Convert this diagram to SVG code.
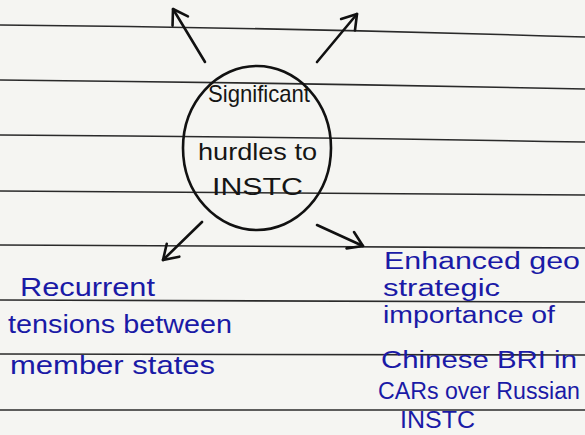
<svg xmlns="http://www.w3.org/2000/svg" width="585" height="435" viewBox="0 0 585 435">
  <defs>
    <style>
      .rule{stroke:#2a2a2a;stroke-width:1.6;fill:none}
      .conn{stroke:#111;stroke-width:2.6;fill:none;stroke-linecap:round;marker-end:url(#head)}
      .ink{font-family:"Liberation Sans",Arial,sans-serif;fill:#151515;font-size:24px}
      .blue{font-family:"Liberation Sans",Arial,sans-serif;fill:#1a1aa6;font-size:26px}
      .blue2{font-family:"Liberation Sans",Arial,sans-serif;fill:#1a1aa6;font-size:23px}
    </style>
    <marker id="head" viewBox="-16 -11 18 22" markerWidth="18" markerHeight="22" refX="0" refY="0" orient="auto" markerUnits="userSpaceOnUse">
      <path d="M-14,-9 L0,0 L-14,9" fill="none" stroke="#111" stroke-width="2.6" stroke-linecap="round" stroke-linejoin="round"/>
    </marker>
  </defs>
  <rect width="585" height="435" fill="#f5f5f2"/>
  <g id="paper">
    <path class="rule" d="M0,25 Q300,28 585,37"/>
    <path class="rule" d="M0,80 Q300,83 585,89"/>
    <path class="rule" d="M0,135 Q300,137 585,142"/>
    <path class="rule" d="M0,191 Q300,192 585,195"/>
    <path class="rule" d="M0,245 Q300,246 585,248"/>
    <path class="rule" d="M0,300 Q300,300 585,302"/>
    <path class="rule" d="M0,354 Q300,354 585,355"/>
    <path class="rule" d="M0,410 L585,410"/>
  </g>
  <g id="connectors">
    <path class="conn" d="M205,62 L173,9"/>
    <path class="conn" d="M317,62 L357,14"/>
    <path class="conn" d="M202,222 L163,260"/>
    <path class="conn" d="M317,225 L363,246"/>
  </g>
  <g id="center">
    <ellipse cx="257" cy="148" rx="74" ry="82" fill="none" stroke="#111" stroke-width="2.6"/>
    <text class="ink" x="208" y="102" textLength="102" lengthAdjust="spacingAndGlyphs">Significant</text>
    <text class="ink" x="198" y="160" textLength="119" lengthAdjust="spacingAndGlyphs">hurdles to</text>
    <text class="ink" x="212" y="195" textLength="91" lengthAdjust="spacingAndGlyphs">INSTC</text>
  </g>
  <g id="left">
    <text class="blue" x="20" y="296" textLength="135" lengthAdjust="spacingAndGlyphs">Recurrent</text>
    <text class="blue" x="8" y="333" textLength="224" lengthAdjust="spacingAndGlyphs">tensions between</text>
    <text class="blue" x="10" y="374" textLength="205" lengthAdjust="spacingAndGlyphs">member states</text>
  </g>
  <g id="right">
    <text class="blue2" x="384" y="269" textLength="196" lengthAdjust="spacingAndGlyphs">Enhanced geo</text>
    <text class="blue2" x="383" y="296" textLength="117" lengthAdjust="spacingAndGlyphs">strategic</text>
    <text class="blue2" x="383" y="323" textLength="172" lengthAdjust="spacingAndGlyphs">importance of</text>
    <text class="blue2" x="381" y="368" textLength="196" lengthAdjust="spacingAndGlyphs">Chinese BRI in</text>
    <text class="blue2" x="378" y="399" textLength="202" lengthAdjust="spacingAndGlyphs">CARs over Russian</text>
    <text class="blue2" x="400" y="428" textLength="75" lengthAdjust="spacingAndGlyphs">INSTC</text>
  </g>
</svg>
